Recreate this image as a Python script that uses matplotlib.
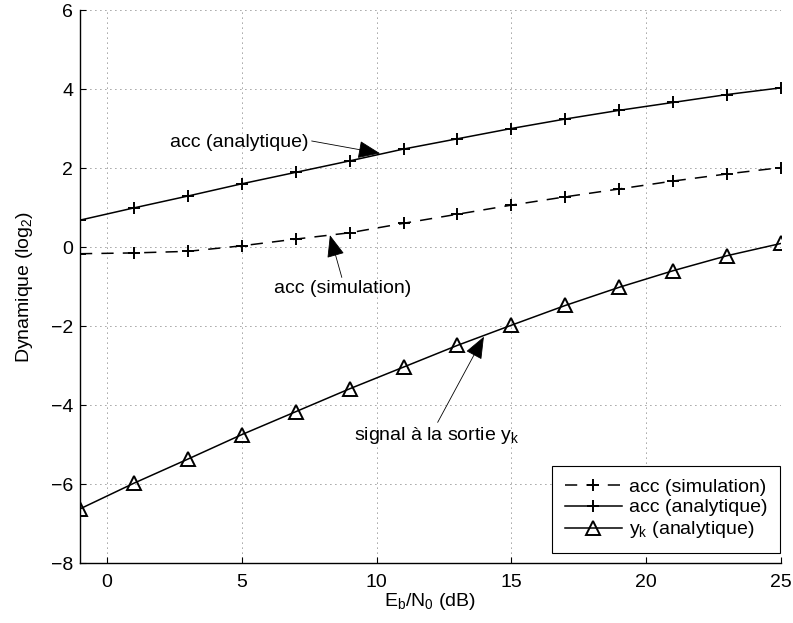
import matplotlib
matplotlib.use("Agg")
import matplotlib.pyplot as plt

plt.rcParams['font.family'] = ['Liberation Sans', 'DejaVu Sans']
plt.rcParams['mathtext.fontset'] = 'custom'
plt.rcParams['mathtext.rm'] = 'Liberation Sans'
plt.rcParams['mathtext.it'] = 'Liberation Sans'

ebn0 = [-1, 1, 3, 5, 7, 9, 11, 13, 15, 17, 19, 21, 23, 25]
acc_sim = [-0.17, -0.15, -0.11, 0.03, 0.20, 0.36, 0.60, 0.83, 1.06, 1.27, 1.47, 1.67, 1.85, 2.01]
acc_ana = [0.68, 0.99, 1.29, 1.60, 1.89, 2.18, 2.48, 2.74, 3.00, 3.24, 3.46, 3.66, 3.86, 4.03]
yk_ana = [-6.63, -5.98, -5.37, -4.75, -4.17, -3.59, -3.04, -2.49, -1.98, -1.48, -1.02, -0.60, -0.22, 0.09]

labels = ['acc (simulation)', 'acc (analytique)', r'y$_\mathregular{k}$ (analytique)']
xticks = [0, 5, 10, 15, 20, 25]
yticks = [-8, -6, -4, -2, 0, 2, 4, 6]

FS = 14

fig = plt.figure(figsize=(7.93, 6.23), dpi=100)
ax = fig.add_axes([80/793, 1-563/623, 701/793, 553/623])

ax.plot(ebn0, acc_sim, color='k', lw=1.1, dashes=(8, 6), marker='+', ms=9, mew=1.4, label=labels[0])
ax.plot(ebn0, acc_ana, color='k', lw=1.1, marker='+', ms=9, mew=1.4, label=labels[1])
ax.plot(ebn0, yk_ana, color='k', lw=1.1, marker='^', ms=10, mew=1.4, mfc='none', label=labels[2])

ax.set_xlim(-1, 25)
ax.set_ylim(-8, 6)
ax.set_xticks(xticks)
ax.set_yticks(yticks)
ax.tick_params(direction='in', length=4, width=0.8, labelsize=FS)
ax.tick_params(axis='x', pad=8)
ax.tick_params(axis='y', pad=5)
ax.grid(True, color='0.25', lw=0.6, linestyle=(0, (1, 5)))
for s in ['top', 'right']:
    ax.spines[s].set_visible(False)
for s in ['left', 'bottom']:
    ax.spines[s].set_linewidth(1.0)

ax.set_xlabel(r'E$_\mathregular{b}$/N$_\mathregular{0}$ (dB)', fontsize=FS, labelpad=0)
ax.set_ylabel(r'Dynamique (log$_\mathregular{2}$)', fontsize=FS, labelpad=11)

aprops = dict(arrowstyle='-|>,head_length=1.0,head_width=0.4', lw=0.6, color='k',
              shrinkA=0, shrinkB=0)
ax.annotate('acc (analytique)', xy=(10.13, 2.37), xytext=(4.92, 2.54),
            ha='center', va='baseline', fontsize=FS,
            arrowprops=dict(aprops, relpos=(1.0, 0.6)))
ax.annotate('acc (simulation)', xy=(8.27, 0.30), xytext=(8.74, -1.17),
            ha='center', va='baseline', fontsize=FS,
            arrowprops=dict(aprops, relpos=(0.5, 1.0)))
ax.annotate(r'signal à la sortie y$_\mathregular{k}$', xy=(13.98, -2.27), xytext=(12.21, -4.89),
            ha='center', va='baseline', fontsize=FS,
            arrowprops=dict(aprops, relpos=(0.5, 1.0)))

leg = ax.legend(loc='lower right', bbox_to_anchor=(0.9986, 0.018), borderaxespad=0,
                fontsize=FS, handlelength=2.95, handletextpad=0.35, labelspacing=0.15,
                borderpad=0.65, fancybox=False, framealpha=1, edgecolor='k')
leg.get_frame().set_linewidth(0.8)

fig.savefig('out.png', dpi=100)
